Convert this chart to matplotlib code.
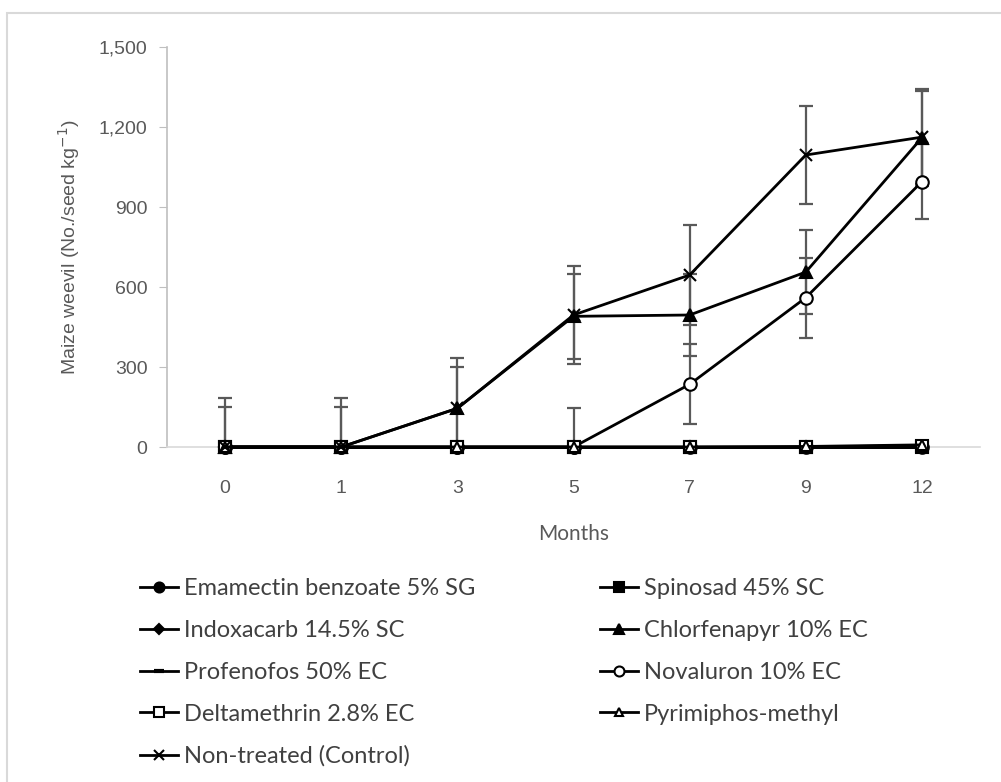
import matplotlib.pyplot as plt
import numpy as np
from matplotlib.patches import Rectangle
from matplotlib.ticker import FuncFormatter

months = ['0', '1', '3', '5', '7', '9', '12']

emamectin = [0, 0, 0, 0, 0, 0, 0]
spinosad = [0, 0, 0, 0, 0, 0, 0]
indoxacarb = [0, 0, 0, 0, 0, 0, 0]
chlorfenapyr = [0, 0, 145, 490, 495, 656, 1160]
profenofos = [0, 0, 0, 0, 0, 0, 0]
novaluron = [0, 0, 0, 0, 235, 560, 995]
deltamethrin = [0, 0, 0, 0, 0, 0, 5]
pyrimiphos = [0, 0, 0, 0, 0, 2, 8]
control = [0, 0, 145, 495, 645, 1095, 1162]

# standard error bars (0 = no bar drawn)
emamectin_err = [150, 150, 0, 0, 0, 0, 0]
chlorfenapyr_err = [0, 0, 156, 160, 155, 158, 175]
novaluron_err = [0, 0, 0, 145, 150, 150, 140]
control_err = [184, 184, 188, 185, 187, 184, 182]

W, H = 1001, 782
fig = plt.figure(figsize=(W / 100, H / 100), dpi=100)
ax = fig.add_axes([167 / W, 1 - 447 / H, (980 - 167) / W, 400 / H])

x = np.arange(len(months))

# error bars first, so the lines sit on top
for vals, errs in [(emamectin, emamectin_err), (chlorfenapyr, chlorfenapyr_err),
                   (novaluron, novaluron_err), (control, control_err)]:
    v = np.array(vals, float)
    e = np.array(errs, float)
    m = e > 0
    ax.errorbar(x[m], v[m], yerr=e[m], fmt='none', ecolor='#595959',
                elinewidth=1.6, capsize=5, capthick=1.6, zorder=2)

ms = 9
lw = 2
series = [
    ('Emamectin benzoate 5% SG', emamectin, dict(marker='o', mfc='black')),
    ('Spinosad 45% SC', spinosad, dict(marker='s', mfc='black')),
    ('Indoxacarb 14.5% SC', indoxacarb, dict(marker='D', mfc='black', ms=6)),
    ('Chlorfenapyr 10% EC', chlorfenapyr, dict(marker='^', mfc='black')),
    ('Profenofos 50% EC', profenofos, dict(marker='_', mfc='black', mew=3)),
    ('Novaluron 10% EC', novaluron, dict(marker='o', mfc='white')),
    ('Deltamethrin 2.8% EC', deltamethrin, dict(marker='s', mfc='white')),
    ('Pyrimiphos-methyl', pyrimiphos, dict(marker='^', mfc='white', ms=7)),
    ('Non-treated (Control)', control, dict(marker='x', mfc='none', mew=1.5)),
]

handles = {}
for i, (name, vals, style) in enumerate(series):
    kw = dict(color='black', lw=lw, ms=ms, mec='black', mew=1.5)
    kw.update(style)
    h, = ax.plot(x, vals, label=name, zorder=3 + i, clip_on=False, **kw)
    handles[name] = h

ax.set_xlim(-0.5, 6.5)
ax.set_ylim(0, 1500)
ax.set_yticks([0, 300, 600, 900, 1200, 1500])
ax.yaxis.set_major_formatter(FuncFormatter(lambda v, p: f'{v:,.0f}'))
ax.set_xticks(x)
ax.set_xticklabels(months)

for s in ['top', 'right']:
    ax.spines[s].set_visible(False)
ax.spines['left'].set_color('#bfbfbf')
ax.spines['bottom'].set_color('#d9d9d9')
ax.spines['left'].set_linewidth(1.2)
ax.spines['bottom'].set_linewidth(1.2)
ax.tick_params(axis='y', length=6, color='#bfbfbf', labelcolor='#595959',
               labelsize=14, pad=8)
ax.tick_params(axis='x', length=0, labelcolor='#595959', labelsize=14, pad=24)
for t in ax.get_xticklabels() + ax.get_yticklabels():
    t.set_fontfamily('Liberation Sans')

ax.set_ylabel('Maize weevil (No./seed kg$^{-1}$)', fontsize=14, color='#595959',
              family='Liberation Sans', labelpad=12)
ax.set_xlabel('Months', fontsize=15, color='#595959', family='Lato', labelpad=19)

order = ['Emamectin benzoate 5% SG', 'Indoxacarb 14.5% SC', 'Profenofos 50% EC',
         'Deltamethrin 2.8% EC', 'Non-treated (Control)',
         'Spinosad 45% SC', 'Chlorfenapyr 10% EC', 'Novaluron 10% EC',
         'Pyrimiphos-methyl']
leg = fig.legend([handles[n] for n in order], order, ncol=2, frameon=False,
                 loc='upper left', bbox_to_anchor=(119 / W, 1 - 557 / H),
                 prop={'family': 'Lato', 'size': 17}, handlelength=1.6,
                 handletextpad=0.25, labelspacing=0.88, columnspacing=5.3,
                 markerscale=0.8)
for t in leg.get_texts():
    t.set_color('#404040')

fig.add_artist(Rectangle((7 / W, -0.1), 1.2, 1 - 13 / H + 0.1,
                         transform=fig.transFigure, fill=False,
                         ec='#d9d9d9', lw=1.5))

fig.savefig('out.png', dpi=100)
